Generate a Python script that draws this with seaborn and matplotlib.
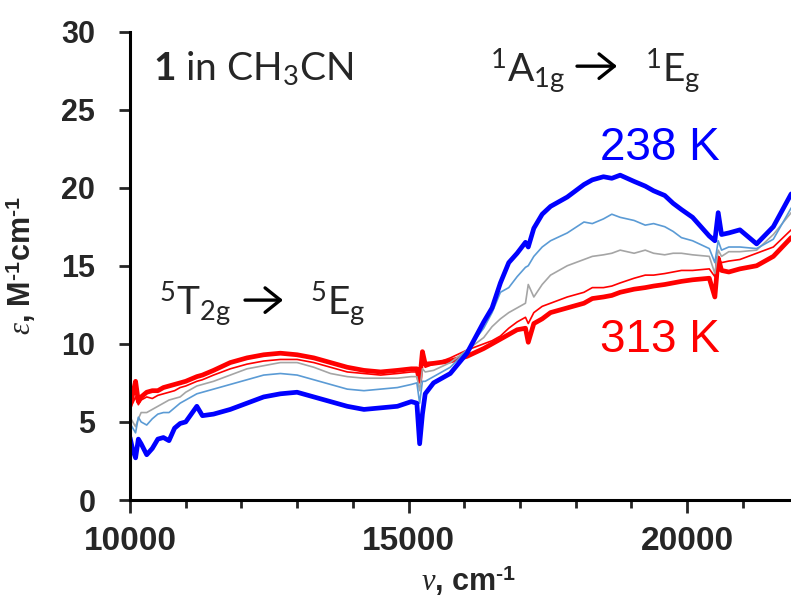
import matplotlib
matplotlib.use("Agg")
import matplotlib.pyplot as plt
import pandas as pd
import seaborn as sns
from matplotlib.ticker import MultipleLocator

# ---- data ----
wavenumber = [10000, 10050, 10100, 10150, 10200, 10300, 10400, 10500, 10600, 10700,
              10800, 10900, 11000, 11200, 11300, 11500, 11800, 12100, 12400, 12700,
              13000, 13300, 13600, 13900, 14200, 14500, 14800, 15050, 15150, 15200,
              15250, 15300, 15450, 15750, 16050, 16350, 16500, 16650, 16800, 16950,
              17100, 17150, 17250, 17400, 17550, 17850, 18150, 18300, 18500, 18650,
              18800, 19050, 19250, 19400, 19600, 19750, 19900, 20100, 20400, 20500,
              20560, 20620, 20750, 20950, 21250, 21550, 21870]

eps_238K = [4.0, 3.2, 2.7, 3.9, 3.6, 2.9, 3.3, 3.9, 4.0, 3.8,
            4.6, 4.9, 5.0, 6.0, 5.4, 5.5, 5.8, 6.2, 6.6, 6.8,
            6.9, 6.6, 6.3, 6.0, 5.8, 5.9, 6.0, 6.3, 6.2, 3.6,
            5.5, 6.8, 7.5, 8.1, 9.4, 11.4, 12.3, 13.9, 15.2, 15.8,
            16.5, 16.2, 17.4, 18.3, 18.8, 19.4, 20.2, 20.5, 20.7, 20.6,
            20.8, 20.4, 20.1, 19.8, 19.5, 19.0, 18.6, 18.1, 16.9, 16.6,
            18.4, 17.0, 17.1, 17.3, 16.4, 17.5, 19.6]

eps_mid1 = [4.9, 4.6, 4.3, 5.3, 5.0, 4.8, 5.2, 5.5, 5.6, 5.6,
            5.9, 6.2, 6.4, 6.8, 6.9, 7.1, 7.4, 7.7, 8.0, 8.1,
            8.0, 7.7, 7.4, 7.1, 7.0, 7.1, 7.2, 7.4, 7.5, 6.2,
            7.6, 7.6, 7.9, 8.5, 9.6, 11.0, 12.0, 13.3, 13.6, 14.3,
            14.9, 15.0, 15.6, 16.2, 16.6, 17.1, 17.8, 17.7, 18.0, 18.3,
            18.1, 17.9, 17.6, 17.7, 17.5, 17.2, 16.8, 16.6, 16.1, 15.2,
            16.6, 16.0, 16.2, 16.2, 16.1, 16.7, 18.7]

eps_mid2 = [5.3, 5.0, 4.7, 5.2, 5.6, 5.6, 5.8, 6.0, 6.2, 6.4,
            6.5, 6.6, 6.9, 7.3, 7.4, 7.6, 8.0, 8.4, 8.6, 8.8,
            8.8, 8.5, 8.1, 7.9, 7.8, 7.8, 7.8, 7.9, 7.9, 7.0,
            8.4, 8.2, 8.3, 8.8, 9.6, 10.4, 11.1, 11.6, 12.0, 12.3,
            12.6, 13.8, 13.0, 13.8, 14.4, 15.0, 15.4, 15.6, 15.7, 15.8,
            16.0, 15.8, 16.0, 15.8, 15.7, 15.8, 15.8, 15.7, 15.6, 14.5,
            16.0, 15.6, 15.9, 15.9, 16.0, 17.0, 18.4]

eps_mid3 = [5.9, 6.2, 6.6, 6.1, 6.4, 6.6, 6.5, 6.7, 6.8, 6.9,
            7.0, 7.2, 7.3, 7.6, 7.7, 8.0, 8.4, 8.7, 8.9, 9.0,
            9.0, 8.8, 8.5, 8.2, 8.1, 8.0, 8.1, 8.2, 8.2, 7.6,
            8.9, 8.5, 8.7, 9.1, 9.6, 10.0, 10.2, 10.5, 11.0, 11.4,
            11.7, 11.3, 12.0, 12.4, 12.6, 13.0, 13.3, 13.6, 13.6, 13.7,
            13.9, 14.2, 14.4, 14.4, 14.5, 14.6, 14.7, 14.7, 14.8, 14.3,
            15.4, 15.2, 15.3, 15.4, 15.8, 16.2, 17.3]

eps_313K = [6.0, 6.8, 7.6, 6.3, 6.6, 6.9, 7.0, 7.0, 7.2, 7.3,
            7.4, 7.5, 7.6, 7.9, 8.0, 8.3, 8.8, 9.1, 9.3, 9.4,
            9.3, 9.1, 8.8, 8.5, 8.3, 8.2, 8.3, 8.4, 8.4, 7.6,
            9.5, 8.7, 8.75, 8.9, 9.2, 9.7, 10.0, 10.3, 10.6, 10.9,
            11.0, 10.1, 11.3, 11.6, 12.0, 12.3, 12.6, 12.9, 13.0, 13.1,
            13.3, 13.5, 13.6, 13.7, 13.8, 13.9, 14.0, 14.1, 14.2, 13.0,
            15.5, 14.7, 14.6, 14.8, 15.0, 15.6, 16.8]

series_names = ["313 K", "mid3", "mid2", "mid1", "238 K"]
series_values = [eps_313K, eps_mid3, eps_mid2, eps_mid1, eps_238K]
series_colors = ["#FF0000", "#FF0000", "#A5A5A5", "#5B9BD5", "#0000FF"]
series_widths = [3.4, 1.2, 1.2, 1.2, 3.4]

y_ticks = [0, 5, 10, 15, 20, 25, 30]
x_ticks = [10000, 15000, 20000]

# ---- build long table ----
frames = []
for name, vals in zip(series_names, series_values):
    frames.append(pd.DataFrame({"nu": wavenumber, "eps": vals, "series": name}))
df = pd.concat(frames, ignore_index=True)

sns.set_style("white")
plt.rcParams.update({
    "font.family": ["Liberation Sans", "DejaVu Sans"],
    "mathtext.fontset": "custom",
    "mathtext.it": "Liberation Serif:italic",
    "mathtext.rm": "Liberation Sans",
    "mathtext.bf": "Lato:bold",
})

fig = plt.figure(figsize=(7.91, 6.0), dpi=100)
ax = fig.add_axes([130 / 791, 100 / 600, 661 / 791, 468.5 / 600])

sns.lineplot(data=df, x="nu", y="eps", hue="series", size="series",
             hue_order=series_names, size_order=series_names,
             palette=dict(zip(series_names, series_colors)),
             sizes=dict(zip(series_names, series_widths)),
             legend=False, sort=False, ax=ax)

ax.set_xlim(10000, 21867)
ax.set_ylim(0, 30)

for s in ["top", "right"]:
    ax.spines[s].set_visible(False)
for s in ["left", "bottom"]:
    ax.spines[s].set_linewidth(2.2)
    ax.spines[s].set_color("black")

ax.set_xticks(x_ticks)
ax.set_xticklabels([str(v) for v in x_ticks])
ax.xaxis.set_minor_locator(MultipleLocator(1000))
ax.set_yticks(y_ticks)
ax.set_yticklabels([str(v) for v in y_ticks])

ax.tick_params(axis="x", which="major", direction="out", length=9, width=2,
               pad=10, labelsize=24, bottom=True)
ax.tick_params(axis="x", which="minor", direction="out", length=6, width=2, bottom=True)
ax.tick_params(axis="y", which="major", direction="out", length=8, width=2,
               pad=17, labelsize=22, left=True)
for lab in ax.get_xticklabels() + ax.get_yticklabels():
    lab.set_fontweight("bold")

ax.set_xlabel("$\\nu$, cm$^\\mathregular{\u20101}$", fontsize=22, fontweight="bold")
ax.set_ylabel("$ε$, M$^\\mathregular{\u20101}$cm$^\\mathregular{\u20101}$",
              fontsize=22, fontweight="bold")
ax.xaxis.set_label_coords(0.513, -0.135)
ax.yaxis.set_label_coords(-0.139, 0.5)

ann_font = "Lato"
arrow_props = dict(arrowstyle="->,head_length=0.5,head_width=0.4", lw=2.4,
                   color="black", shrinkA=0, shrinkB=0, mutation_scale=22)

ax.text(10413, 26.9, r"$\mathbf{1}$ in CH$_\mathregular{3}$CN", fontsize=28,
        family=ann_font, va="baseline", ha="left")

ax.text(10521, 11.84, r"$^\mathregular{5}$T$_\mathregular{2g}$", fontsize=28,
        family=ann_font, va="baseline", ha="left")
ax.annotate("", xy=(12747, 12.8), xytext=(12065, 12.8), arrowprops=arrow_props)
ax.text(13232, 11.84, r"$^\mathregular{5}$E$_\mathregular{g}$", fontsize=28,
        family=ann_font, va="baseline", ha="left")

ax.text(16463, 26.76, r"$^\mathregular{1}$A$_\mathregular{1g}$", fontsize=28,
        family=ann_font, va="baseline", ha="left")
ax.annotate("", xy=(18743, 27.78), xytext=(18025, 27.78), arrowprops=arrow_props)
ax.text(19246, 26.76, r"$^\mathregular{1}$E$_\mathregular{g}$", fontsize=28,
        family=ann_font, va="baseline", ha="left")

ax.text(18438, 21.77, "238 K", fontsize=33, color="#0000FF", va="baseline", ha="left")
ax.text(18438, 9.47, "313 K", fontsize=33, color="#FF0000", va="baseline", ha="left")

fig.savefig("out.png", dpi=100)
